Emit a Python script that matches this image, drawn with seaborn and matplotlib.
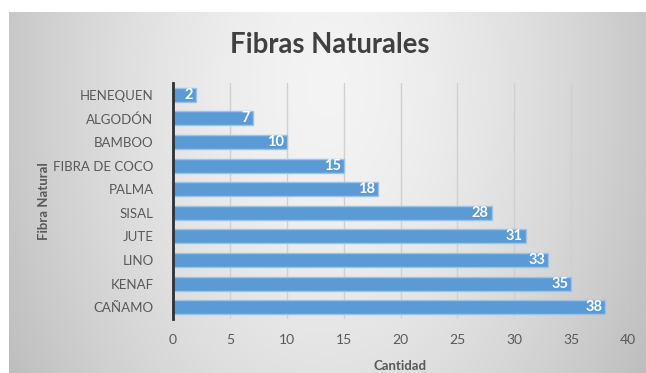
import numpy as np
import pandas as pd
import matplotlib
matplotlib.use("Agg")
import matplotlib.pyplot as plt
import seaborn as sns

fibras = ["HENEQUEN", "ALGODÓN", "BAMBOO", "FIBRA DE COCO", "PALMA",
          "SISAL", "JUTE", "LINO", "KENAF", "CAÑAMO"]
cantidad = [2, 7, 10, 15, 18, 28, 31, 33, 35, 38]
x_ticks = [0, 5, 10, 15, 20, 25, 30, 35, 40]

df = pd.DataFrame({"Fibra Natural": fibras, "Cantidad": cantidad})

sns.set_theme(style="white")
plt.rcParams["font.family"] = ["Lato", "DejaVu Sans"]

W, H = 646, 373
fig = plt.figure(figsize=(W / 100, H / 100), dpi=100)
fig.patch.set_facecolor("white")

# gradient panel behind the chart
bg = fig.add_axes([9 / W, 0, 1 - 9 / W, 1 - 12 / H], zorder=0)
xs = np.linspace(-1, 1, 400)
ys = np.linspace(-1, 1, 240)
X, Y = np.meshgrid(xs, ys)
r = np.sqrt(X ** 2 + (0.35 * (Y + 0.6)) ** 2)
val = 0.955 - 0.17 * np.clip(r, 0, 1.3) ** 1.6
bg.imshow(np.dstack([val, val, val]), aspect="auto", extent=[0, 1, 0, 1],
          interpolation="bilinear")
bg.set_axis_off()

ax = fig.add_axes([173 / W, 1 - 319 / H, (628 - 173) / W, (319 - 83) / H], zorder=1)
ax.patch.set_alpha(0)

sns.barplot(data=df, y="Fibra Natural", x="Cantidad", orient="h",
            color="#5B9BD5", saturation=1, width=0.6, ax=ax,
            edgecolor="#9CC3E6", linewidth=1.0, zorder=2)

for i, v in enumerate(cantidad):
    ax.text(v - 0.25, i, str(v), ha="right", va="center", color="white",
            fontsize=10.5, fontweight="bold", zorder=3)

ax.set_xlim(0, 40)
ax.set_xticks(x_ticks)
ax.set_xticklabels([str(t) for t in x_ticks])
ax.grid(axis="x", color="#d0d0d0", linewidth=1.0, zorder=0)
ax.set_axisbelow(True)
for s in ["top", "right", "bottom"]:
    ax.spines[s].set_visible(False)
ax.spines["left"].set_color("#303030")
ax.spines["left"].set_linewidth(2)
ax.tick_params(axis="both", length=0, colors="#595959", labelsize=10)
ax.tick_params(axis="y", labelsize=9.5, pad=14)
ax.tick_params(axis="x", pad=11)

ax.set_xlabel("Cantidad", fontsize=9.5, fontweight="bold", color="#595959", labelpad=10)
ax.set_ylabel("Fibra Natural", fontsize=9.5, fontweight="bold", color="#595959", labelpad=2)

fig.text(330 / W, 1 - 45 / H, "Fibras Naturales", ha="center", va="center",
         fontsize=19.8, fontweight="bold", color="#404040")

fig.savefig("out.png", dpi=100)
